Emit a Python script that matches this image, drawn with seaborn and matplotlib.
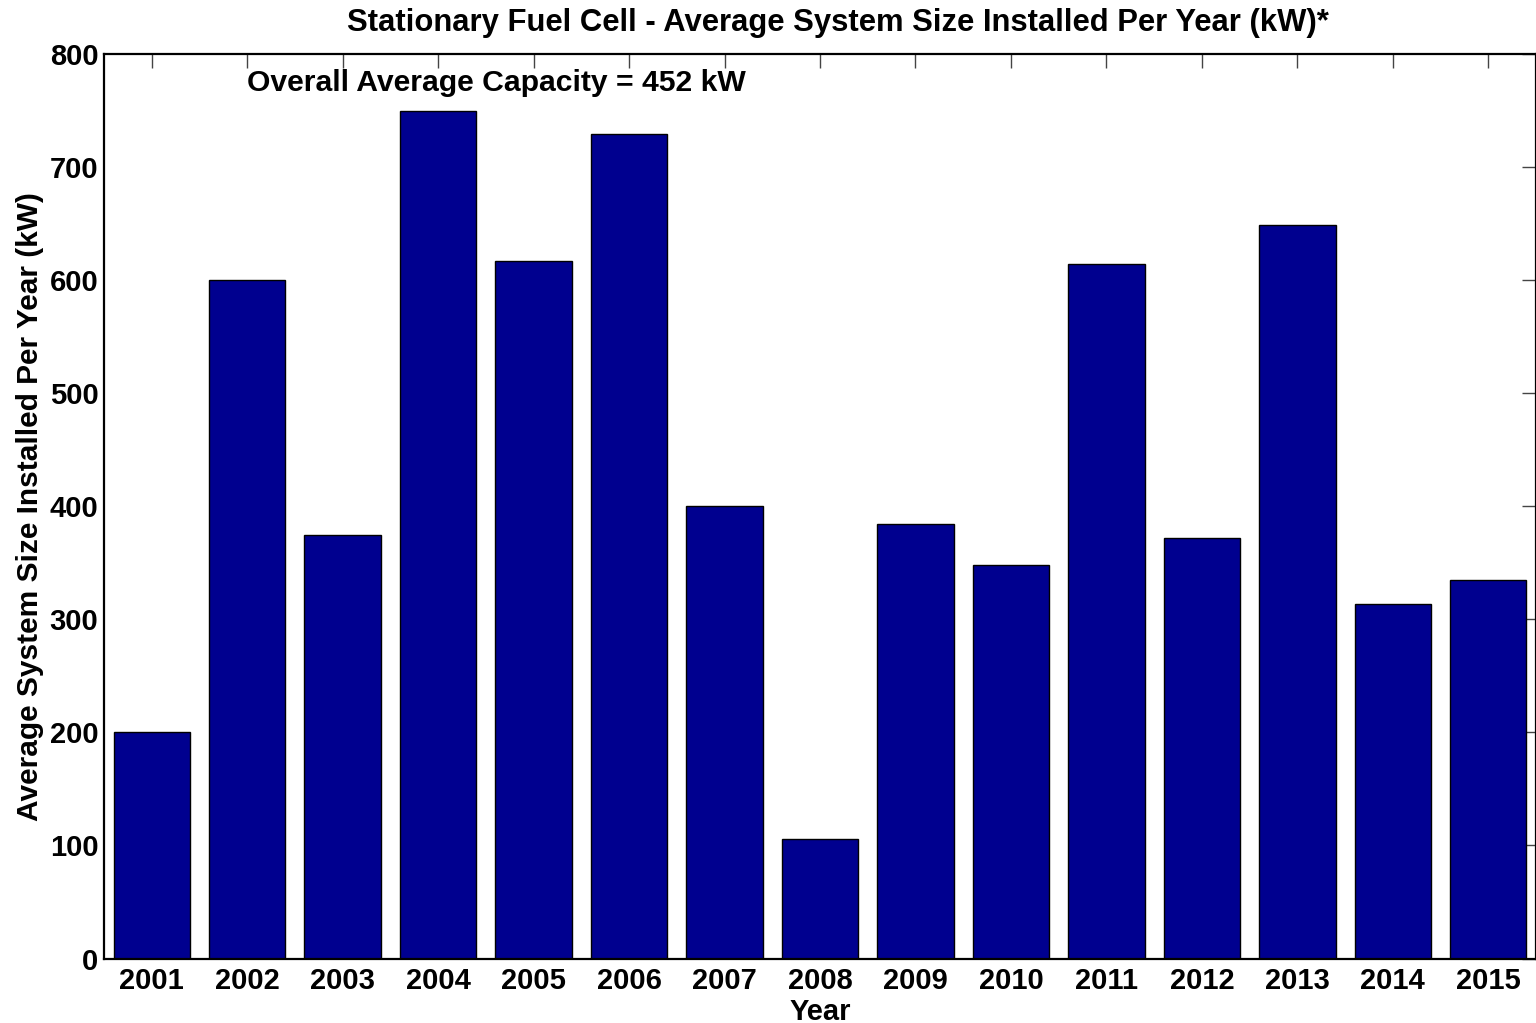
import matplotlib
matplotlib.use("Agg")
import matplotlib.pyplot as plt
import seaborn as sns
import pandas as pd

years = ["2001", "2002", "2003", "2004", "2005", "2006", "2007", "2008",
         "2009", "2010", "2011", "2012", "2013", "2014", "2015"]
avg_size_kw = [200, 600, 375, 750, 617, 729, 400, 106,
               384, 348, 614, 372, 649, 314, 335]
overall_avg_kw = 452
y_ticks = [0, 100, 200, 300, 400, 500, 600, 700, 800]

sns.set_theme(style="white")
plt.rcParams["font.family"] = ["Liberation Sans", "DejaVu Sans"]
plt.rcParams["font.weight"] = "bold"
plt.rcParams["text.color"] = "black"
plt.rcParams["axes.labelcolor"] = "black"
plt.rcParams["xtick.color"] = "black"
plt.rcParams["ytick.color"] = "black"

df = pd.DataFrame({"Year": years, "Size": avg_size_kw})

fig = plt.figure(figsize=(15.36, 10.23), dpi=100)
ax = fig.add_axes([0.0677, 0.063, 0.9323, 0.8842])

sns.barplot(data=df, x="Year", y="Size", color="#00008F", saturation=1,
            width=0.8, edgecolor="black", linewidth=1.0, ax=ax)

ax.set_xlim(-0.5, len(years) - 0.5)
ax.set_ylim(0, 800)
ax.set_yticks(y_ticks)
ax.set_yticklabels([str(t) for t in y_ticks], fontsize=21, fontweight="bold")
ax.set_xticks(range(len(years)))
ax.set_xticklabels(years, fontsize=21, fontweight="bold")

ax.tick_params(axis="both", which="both", direction="in", length=10,
               width=1, color="#444444", labelcolor="black",
               top=True, right=True)
ax.tick_params(axis="x", pad=6)
ax.tick_params(axis="y", pad=4)
for side in ["left", "right", "top", "bottom"]:
    ax.spines[side].set_visible(True)
    ax.spines[side].set_color("black")
    ax.spines[side].set_linewidth(1.6)

ax.set_xlabel("Year", fontsize=21, fontweight="bold", labelpad=2,
              color="black")
ax.set_ylabel("Average System Size Installed Per Year (kW)", fontsize=21.5,
              fontweight="bold", labelpad=4, color="black")

ax.text(1.0, 774, f"Overall Average Capacity = {overall_avg_kw} kW",
        fontsize=21.7, fontweight="bold", ha="left", va="center",
        color="black")

fig.text(0.5456, 0.978,
         "Stationary Fuel Cell - Average System Size Installed Per Year (kW)*",
         fontsize=22.3, fontweight="bold", ha="center", va="center",
         color="black")

fig.savefig("out.png", dpi=100)
